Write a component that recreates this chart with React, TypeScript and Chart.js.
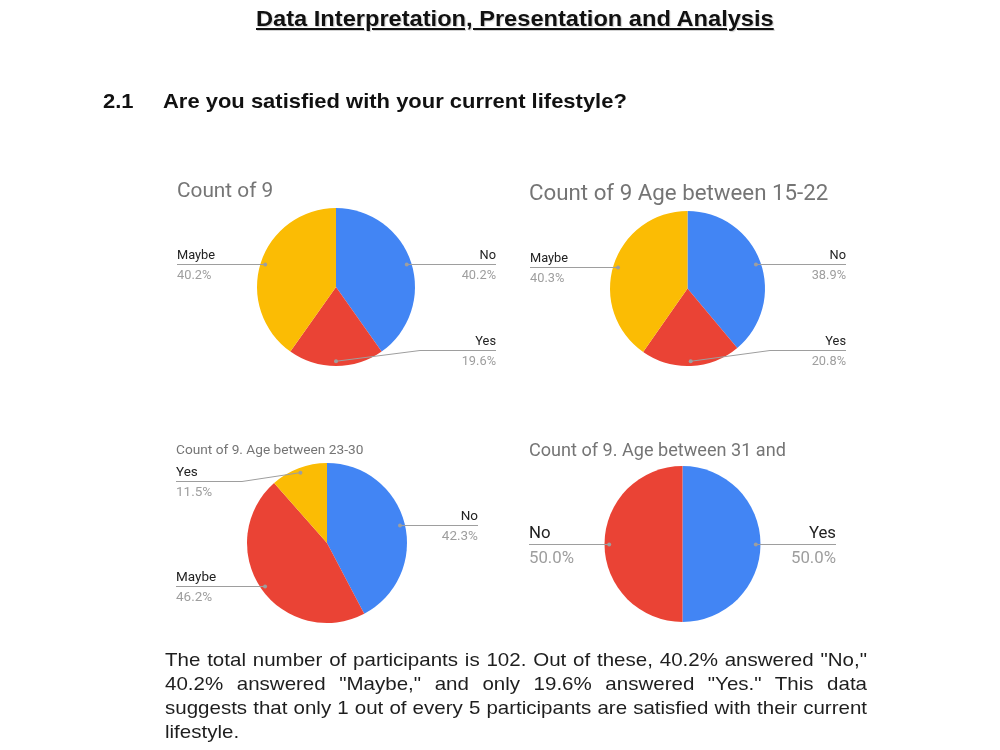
import React, { useEffect, useRef } from "react";
import { Chart, registerables } from "chart.js";

Chart.register(...registerables);

const BLUE = "#4285F4";
const RED = "#EA4335";
const YELLOW = "#FBBC04";

// Chart 1: all participants
const chart1Title = "Count of 9";
const chart1Labels = ["No", "Yes", "Maybe"];
const chart1Values = [40.2, 19.6, 40.2];
const chart1Colors = [BLUE, RED, YELLOW];

// Chart 2: age 15-22
const chart2Title = "Count of 9 Age between 15-22";
const chart2Labels = ["No", "Yes", "Maybe"];
const chart2Values = [38.9, 20.8, 40.3];
const chart2Colors = [BLUE, RED, YELLOW];

// Chart 3: age 23-30
const chart3Title = "Count of 9. Age between 23-30";
const chart3Labels = ["No", "Maybe", "Yes"];
const chart3Values = [42.3, 46.2, 11.5];
const chart3Colors = [BLUE, RED, YELLOW];

// Chart 4: age 31 and above
const chart4Title = "Count of 9. Age between 31 and";
const chart4Labels = ["Yes", "No"];
const chart4Values = [50.0, 50.0];
const chart4Colors = [BLUE, RED];

const headingText = "Data Interpretation, Presentation and Analysis";
const questionNumber = "2.1";
const questionText = "Are you satisfied with your current lifestyle?";
const paragraphLines = [
  'The total number of participants is 102. Out of these, 40.2% answered "No,"',
  '40.2% answered "Maybe," and only 19.6% answered "Yes." This data',
  "suggests that only 1 out of every 5 participants are satisfied with their current",
];
const paragraphLastLine = "lifestyle.";

type Layout = {
  left: number;
  top: number;
  width: number;
  height: number;
  cx: number;
  cy: number;
  r: number;
  labelLeft: number;
  labelRight: number;
  titleX: number;
  titleY: number;
  titleSize: number;
  labelSize: number;
};

const layouts: Layout[] = [
  { left: 165, top: 170, width: 345, height: 210, cx: 336, cy: 287, r: 79, labelLeft: 177, labelRight: 496, titleX: 177, titleY: 197, titleSize: 20.8, labelSize: 12.8 },
  { left: 515, top: 170, width: 345, height: 210, cx: 687.5, cy: 288.5, r: 77.5, labelLeft: 530, labelRight: 846, titleX: 529, titleY: 199.5, titleSize: 22.3, labelSize: 12.8 },
  { left: 165, top: 430, width: 345, height: 205, cx: 327, cy: 543, r: 80, labelLeft: 176, labelRight: 478, titleX: 176, titleY: 454, titleSize: 13.7, labelSize: 13.5 },
  { left: 515, top: 430, width: 345, height: 205, cx: 682.5, cy: 544, r: 78, labelLeft: 529, labelRight: 836, titleX: 529, titleY: 455.5, titleSize: 18.1, labelSize: 16.8 },
];

const CHART_FONT = "Roboto, 'Liberation Sans', Arial, sans-serif";

const sideLabelPlugin = {
  id: "sideLabels",
  afterDatasetsDraw(chart: any, _args: any, opts: any) {
    const L: Layout = opts.layout;
    const ox = L.left;
    const oy = L.top;
    const ctx: CanvasRenderingContext2D = chart.ctx;
    const meta = chart.getDatasetMeta(0);
    const values: number[] = chart.data.datasets[0].data;
    const labels: string[] = chart.data.labels;
    const total = values.reduce((a, b) => a + b, 0);
    ctx.save();
    // title
    ctx.font = `${L.titleSize}px ${CHART_FONT}`;
    ctx.fillStyle = "#757575";
    ctx.textAlign = "left";
    ctx.textBaseline = "alphabetic";
    ctx.fillText(opts.title, L.titleX - ox, L.titleY - oy);

    meta.data.forEach((arc: any, i: number) => {
      const p = arc.getProps(["x", "y", "startAngle", "endAngle", "outerRadius"], true);
      const mid = (p.startAngle + p.endAngle) / 2;
      const dotR = p.outerRadius * 0.94;
      const dx = p.x + Math.cos(mid) * dotR;
      const dy = p.y + Math.sin(mid) * dotR;
      const right = Math.cos(mid) > -1e-6;
      const minY = p.y - p.outerRadius + 18;
      const maxY = p.y + p.outerRadius - 16;
      const lineY = Math.round(Math.min(Math.max(dy, minY), maxY)) + 0.5;
      const edgeX = (right ? L.labelRight : L.labelLeft) - ox;
      const bent = Math.abs(lineY - dy) > 1.5;

      ctx.strokeStyle = "#9e9e9e";
      ctx.lineWidth = 1;
      ctx.beginPath();
      if (bent) {
        ctx.moveTo(dx, dy);
        ctx.lineTo(p.x + (right ? 1 : -1) * (p.outerRadius + 5), lineY);
      } else {
        ctx.moveTo(dx, lineY);
      }
      ctx.lineTo(edgeX, lineY);
      ctx.stroke();

      ctx.fillStyle = "#9e9e9e";
      ctx.beginPath();
      ctx.arc(dx, bent ? dy : lineY, 2, 0, Math.PI * 2);
      ctx.fill();

      const s = L.labelSize;
      ctx.textAlign = right ? "right" : "left";
      ctx.font = `${s}px ${CHART_FONT}`;
      ctx.fillStyle = "#222222";
      ctx.fillText(labels[i], edgeX, lineY - 0.4 * s);
      ctx.fillStyle = "#9e9e9e";
      const pct = ((values[i] / total) * 100).toFixed(1) + "%";
      ctx.fillText(pct, edgeX, lineY + 1.1 * s);
    });
    ctx.restore();
  },
};

function PieChart(props: { title: string; labels: string[]; values: number[]; colors: string[]; layout: Layout }) {
  const ref = useRef<HTMLCanvasElement>(null);
  const L = props.layout;
  useEffect(() => {
    const padding = {
      left: L.cx - L.r - L.left,
      top: L.cy - L.r - L.top,
      right: L.left + L.width - (L.cx + L.r),
      bottom: L.top + L.height - (L.cy + L.r),
    };
    const chart = new Chart(ref.current as HTMLCanvasElement, {
      type: "pie",
      data: {
        labels: props.labels,
        datasets: [
          {
            data: props.values,
            backgroundColor: props.colors,
            borderWidth: 0,
            hoverOffset: 0,
            offset: 0,
          } as any,
        ],
      },
      options: {
        responsive: false,
        animation: false,
        devicePixelRatio: 1,
        events: [],
        layout: { padding },
        plugins: {
          legend: { display: false },
          tooltip: { enabled: false },
          title: { display: false },
          sideLabels: { layout: L, title: props.title },
        } as any,
      },
      plugins: [sideLabelPlugin],
    });
    return () => chart.destroy();
  }, []);
  return (
    <canvas
      ref={ref}
      width={L.width}
      height={L.height}
      style={{ position: "absolute", left: L.left, top: L.top, width: L.width, height: L.height }}
    />
  );
}

const DOC_FONT = "'Liberation Sans', Arial, Helvetica, sans-serif";

export default function App() {
  const paraK = 1.08;
  const paraInner = 702 / paraK;
  return (
    <div
      style={{
        position: "fixed",
        left: 0,
        top: 0,
        width: 1000,
        height: 750,
        background: "#ffffff",
        overflow: "hidden",
        fontFamily: DOC_FONT,
      }}
    >
      <div
        style={{
          position: "absolute",
          left: 256,
          top: 8,
          fontSize: 22.5,
          lineHeight: 1,
          fontWeight: "bold",
          color: "#111",
          textDecoration: "underline",
          whiteSpace: "nowrap",
          transform: "scaleX(1.05)",
          transformOrigin: "left top",
          textShadow: "1px 1px 1px rgba(0,0,0,0.18)",
        }}
      >
        {headingText}
      </div>
      <div
        style={{
          position: "absolute",
          left: 103,
          top: 89.7,
          fontSize: 21,
          lineHeight: 1,
          fontWeight: "bold",
          color: "#111",
          whiteSpace: "nowrap",
          transform: "scaleX(1.046)",
          transformOrigin: "left top",
        }}
      >
        {questionNumber}
      </div>
      <div
        style={{
          position: "absolute",
          left: 163,
          top: 89.7,
          fontSize: 21,
          lineHeight: 1,
          fontWeight: "bold",
          color: "#111",
          whiteSpace: "nowrap",
          transform: "scaleX(1.046)",
          transformOrigin: "left top",
        }}
      >
        {questionText}
      </div>

      <PieChart title={chart1Title} labels={chart1Labels} values={chart1Values} colors={chart1Colors} layout={layouts[0]} />
      <PieChart title={chart2Title} labels={chart2Labels} values={chart2Values} colors={chart2Colors} layout={layouts[1]} />
      <PieChart title={chart3Title} labels={chart3Labels} values={chart3Values} colors={chart3Colors} layout={layouts[2]} />
      <PieChart title={chart4Title} labels={chart4Labels} values={chart4Values} colors={chart4Colors} layout={layouts[3]} />

      <div
        style={{
          position: "absolute",
          left: 165,
          top: 648.4,
          width: paraInner,
          fontSize: 19,
          lineHeight: "24px",
          color: "#1e1e1e",
          transform: `scaleX(${paraK})`,
          transformOrigin: "left top",
        }}
      >
        {paragraphLines.map((line, i) => (
          <div key={i} style={{ textAlign: "justify", textAlignLast: "justify" } as any}>
            {line}
          </div>
        ))}
        <div style={{ textAlign: "left" }}>{paragraphLastLine}</div>
      </div>
    </div>
  );
}
